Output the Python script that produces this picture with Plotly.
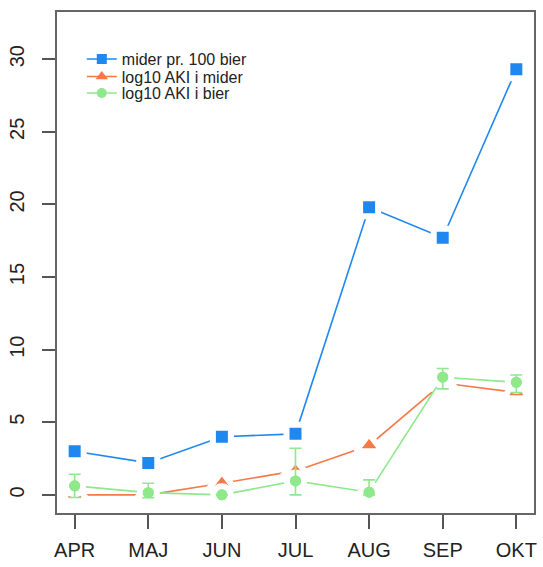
import plotly.graph_objects as go

months = ["APR", "MAJ", "JUN", "JUL", "AUG", "SEP", "OKT"]
mider_pr_100 = [3.0, 2.2, 4.0, 4.2, 19.8, 17.7, 29.3]
log_aki_mider = [0.0, 0.0, 0.8, 1.65, 3.4, 7.7, 7.05]
log_aki_bier = [0.62, 0.15, 0.0, 0.96, 0.18, 8.1, 7.75]
bier_err_plus = [0.8, 0.65, 0.0, 2.25, 0.85, 0.6, 0.5]
bier_err_minus = [0.8, 0.35, 0.0, 0.96, 0.18, 0.8, 0.7]
y_ticks = [0, 5, 10, 15, 20, 25, 30]

BLUE = "#1E88F0"
ORANGE = "#F47A4A"
GREEN = "#8FE88B"

x = list(range(1, len(months) + 1))

fig = go.Figure()

series = [
    ("mider pr. 100 bier", mider_pr_100, BLUE, "square", 18),
    ("log10 AKI i mider", log_aki_mider, ORANGE, "triangle-up", 23),
    ("log10 AKI i bier", log_aki_bier, GREEN, "circle", 17),
]

for name, vals, col, sym, sz in series:
    fig.add_trace(go.Scatter(
        x=x, y=vals, mode="lines+markers", showlegend=False,
        line=dict(color=col, width=1.6),
        marker=dict(symbol=sym, size=sz, color=col, line=dict(color="white", width=6)),
    ))

# green error bars on top
fig.add_trace(go.Scatter(
    x=x, y=log_aki_bier, mode="markers", showlegend=False,
    marker=dict(symbol="circle", size=11, color=GREEN),
    error_y=dict(type="data", symmetric=False, array=bier_err_plus,
                 arrayminus=bier_err_minus, color=GREEN, thickness=1.6, width=6),
))

# legend entries, one small legend per row for tight row spacing
legend_ids = ["legend", "legend2", "legend3"]
legend_rows = [0.906, 0.871, 0.838]
for (name, vals, col, sym, sz), lid in zip(series, legend_ids):
    fig.add_trace(go.Scatter(
        x=[None], y=[None], mode="lines+markers", name=name, legend=lid,
        line=dict(color=col, width=1.6),
        marker=dict(symbol=sym, size=11 if sym == "triangle-up" else 10, color=col),
    ))

legend_style = dict(x=0.052, xanchor="left", yanchor="middle",
                    bgcolor="rgba(0,0,0,0)", borderwidth=0,
                    font=dict(size=16, color="#222222"))

fig.update_layout(
    width=543, height=567,
    margin=dict(l=57, r=9, t=12, b=54, autoexpand=False),
    paper_bgcolor="white", plot_bgcolor="white",
    font=dict(family="Liberation Sans, Arial, sans-serif", color="#222222"),
    legend=dict(y=legend_rows[0], **legend_style),
    legend2=dict(y=legend_rows[1], **legend_style),
    legend3=dict(y=legend_rows[2], **legend_style),
    xaxis=dict(range=[0.76, 7.24], tickvals=x, ticktext=months,
               showgrid=False, zeroline=False, automargin=False,
               showline=True, mirror=True, linecolor="#666666", linewidth=1.5,
               ticks="outside", ticklen=14, tickwidth=1.5, tickcolor="#555555",
               tickfont=dict(size=20), ticklabelstandoff=4),
    yaxis=dict(range=[-1.25, 33.25], tickvals=y_ticks,
               showgrid=False, zeroline=False, automargin=False,
               showline=True, mirror=True, linecolor="#666666", linewidth=1.5,
               ticks="outside", ticklen=13, tickwidth=1.5, tickcolor="#555555",
               tickangle=-90, tickfont=dict(size=20), ticklabelstandoff=10),
)

fig.write_html("out.html", config={"displayModeBar": False},
               post_script="document.body.style.margin='0';document.body.style.overflow='hidden';")
